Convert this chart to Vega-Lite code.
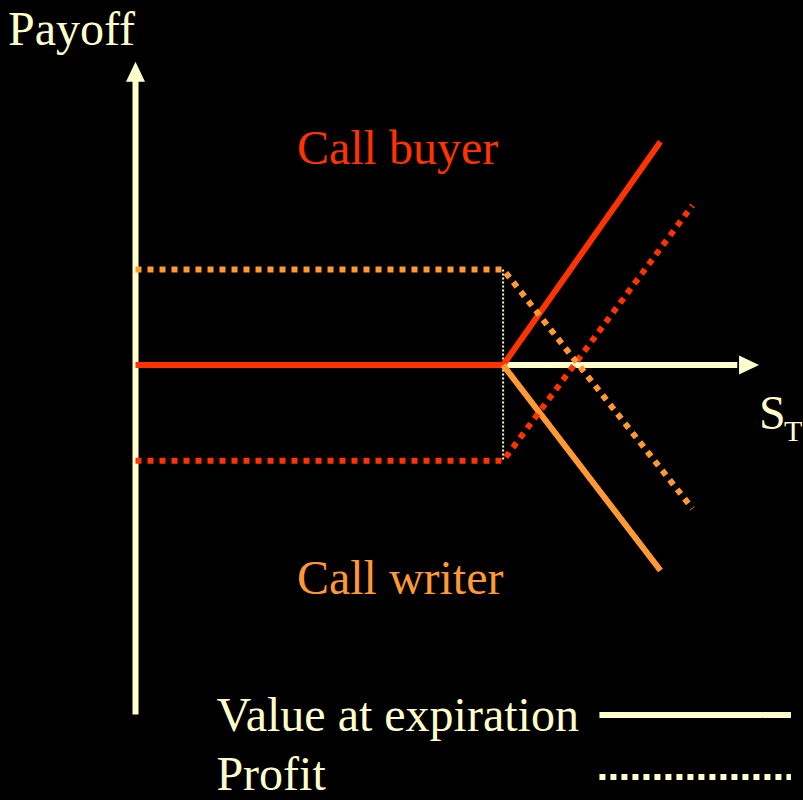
{
  "$schema": "https://vega.github.io/schema/vega-lite/v6.json",
  "width": 803,
  "height": 800,
  "autosize": {"type": "fit", "contains": "padding"},
  "padding": 0,
  "background": "#000000",
  "config": {"view": {"stroke": null}},
  "resolve": {"scale": {"color": "independent", "strokeDash": "independent"}},
  "datasets": {
    "axes": [
      {"axis": "vertical", "order": 1, "x": 0, "y": -94.9},
      {"axis": "vertical", "order": 2, "x": 0, "y": 77.5},
      {"axis": "horizontal", "order": 1, "x": 0, "y": 0},
      {"axis": "horizontal", "order": 2, "x": 163.7, "y": 0}
    ],
    "strike": [
      {"order": 1, "x": 100, "y": 26},
      {"order": 2, "x": 100, "y": -26}
    ],
    "payoffs": [
      {"series": "Call buyer", "kind": "Value at expiration", "order": 1, "x": 0, "y": 0},
      {"series": "Call buyer", "kind": "Value at expiration", "order": 2, "x": 100, "y": 0},
      {"series": "Call buyer", "kind": "Value at expiration", "order": 3, "x": 142.8, "y": 60.7},
      {"series": "Call writer", "kind": "Value at expiration", "order": 1, "x": 100, "y": 0},
      {"series": "Call writer", "kind": "Value at expiration", "order": 2, "x": 142.8, "y": -55.8},
      {"series": "Call buyer", "kind": "Profit", "order": 1, "x": 0, "y": -26},
      {"series": "Call buyer", "kind": "Profit", "order": 2, "x": 100, "y": -26},
      {"series": "Call buyer", "kind": "Profit", "order": 3, "x": 151.5, "y": 43.4},
      {"series": "Call writer", "kind": "Profit", "order": 1, "x": 0, "y": 26},
      {"series": "Call writer", "kind": "Profit", "order": 2, "x": 100, "y": 26},
      {"series": "Call writer", "kind": "Profit", "order": 3, "x": 151.5, "y": -39.0}
    ],
    "legendlines": [
      {"kind": "Value at expiration", "order": 1, "x": 126.2, "y": -95.1},
      {"kind": "Value at expiration", "order": 2, "x": 178.3, "y": -95.1},
      {"kind": "Profit", "order": 1, "x": 126.2, "y": -111.9},
      {"kind": "Profit", "order": 2, "x": 178.3, "y": -111.9}
    ],
    "arrows": [
      {"axis": "vertical", "x": 0, "y": 79.7},
      {"axis": "horizontal", "x": 166.9, "y": 0}
    ],
    "labels": [
      {"text": "Payoff", "role": "axis", "x": -34.7, "y": 87.0},
      {"text": "Call buyer", "role": "Call buyer", "x": 43.9, "y": 54.5},
      {"text": "Call writer", "role": "Call writer", "x": 43.9, "y": -62.3},
      {"text": "S", "role": "axis", "x": 169.6, "y": -17.3},
      {"text": "Value at expiration", "role": "axis", "x": 22.0, "y": -99.5},
      {"text": "Profit", "role": "axis", "x": 22.0, "y": -115.4}
    ],
    "subscripts": [
      {"text": "T", "role": "axis", "x": 176.4, "y": -20.6}
    ]
  },
  "encoding": {
    "x": {"field": "x", "type": "quantitative", "scale": {"domain": [-36.86, 180.76], "nice": false, "zero": false}, "axis": null},
    "y": {"field": "y", "type": "quantitative", "scale": {"domain": [-117.62, 99.19], "nice": false, "zero": false}, "axis": null}
  },
  "layer": [
    {
      "data": {"name": "axes"},
      "mark": {"type": "line", "color": "#FFFFCC", "strokeWidth": 6, "strokeCap": "butt"},
      "encoding": {"detail": {"field": "axis"}, "order": {"field": "order", "type": "quantitative"}}
    },
    {
      "data": {"name": "arrows"},
      "transform": [{"filter": "datum.axis === 'vertical'"}],
      "mark": {"type": "point", "shape": "M0,-1L0.95,1L-0.95,1Z", "filled": true, "color": "#FFFFCC", "opacity": 1, "size": 400, "strokeWidth": 0}
    },
    {
      "data": {"name": "arrows"},
      "transform": [{"filter": "datum.axis === 'horizontal'"}],
      "mark": {"type": "point", "shape": "M1,0L-1,-0.95L-1,0.95Z", "filled": true, "color": "#FFFFCC", "opacity": 1, "size": 400, "strokeWidth": 0}
    },
    {
      "data": {"name": "strike"},
      "mark": {"type": "line", "color": "#FFFFCC", "strokeWidth": 2, "strokeDash": [2, 2]},
      "encoding": {"order": {"field": "order", "type": "quantitative"}}
    },
    {
      "data": {"name": "payoffs"},
      "mark": {"type": "line", "strokeWidth": 6, "strokeCap": "butt", "strokeJoin": "miter"},
      "encoding": {
        "color": {"field": "series", "type": "nominal", "scale": {"domain": ["Call buyer", "Call writer"], "range": ["#FF3300", "#FF9933"]}, "legend": null},
        "strokeDash": {"field": "kind", "type": "nominal", "scale": {"domain": ["Value at expiration", "Profit"], "range": [[1, 0], [6, 6]]}, "legend": null},
        "detail": {"field": "series"},
        "order": {"field": "order", "type": "quantitative"}
      }
    },
    {
      "data": {"name": "legendlines"},
      "mark": {"type": "line", "color": "#FFFFCC", "strokeWidth": 6, "strokeCap": "butt"},
      "encoding": {
        "strokeDash": {"field": "kind", "type": "nominal", "scale": {"domain": ["Value at expiration", "Profit"], "range": [[1, 0], [6, 5]]}, "legend": null},
        "detail": {"field": "kind"},
        "order": {"field": "order", "type": "quantitative"}
      }
    },
    {
      "data": {"name": "labels"},
      "mark": {"type": "text", "font": "Times New Roman, Liberation Serif, DejaVu Serif, serif", "fontSize": 48, "align": "left", "baseline": "alphabetic"},
      "encoding": {
        "text": {"field": "text"},
        "color": {"field": "role", "type": "nominal", "scale": {"domain": ["axis", "Call buyer", "Call writer"], "range": ["#FFFFCC", "#FF3300", "#FF9933"]}, "legend": null}
      }
    },
    {
      "data": {"name": "subscripts"},
      "mark": {"type": "text", "font": "Times New Roman, Liberation Serif, DejaVu Serif, serif", "fontSize": 30, "align": "left", "baseline": "alphabetic", "color": "#FFFFCC"},
      "encoding": {"text": {"field": "text"}}
    }
  ]
}
